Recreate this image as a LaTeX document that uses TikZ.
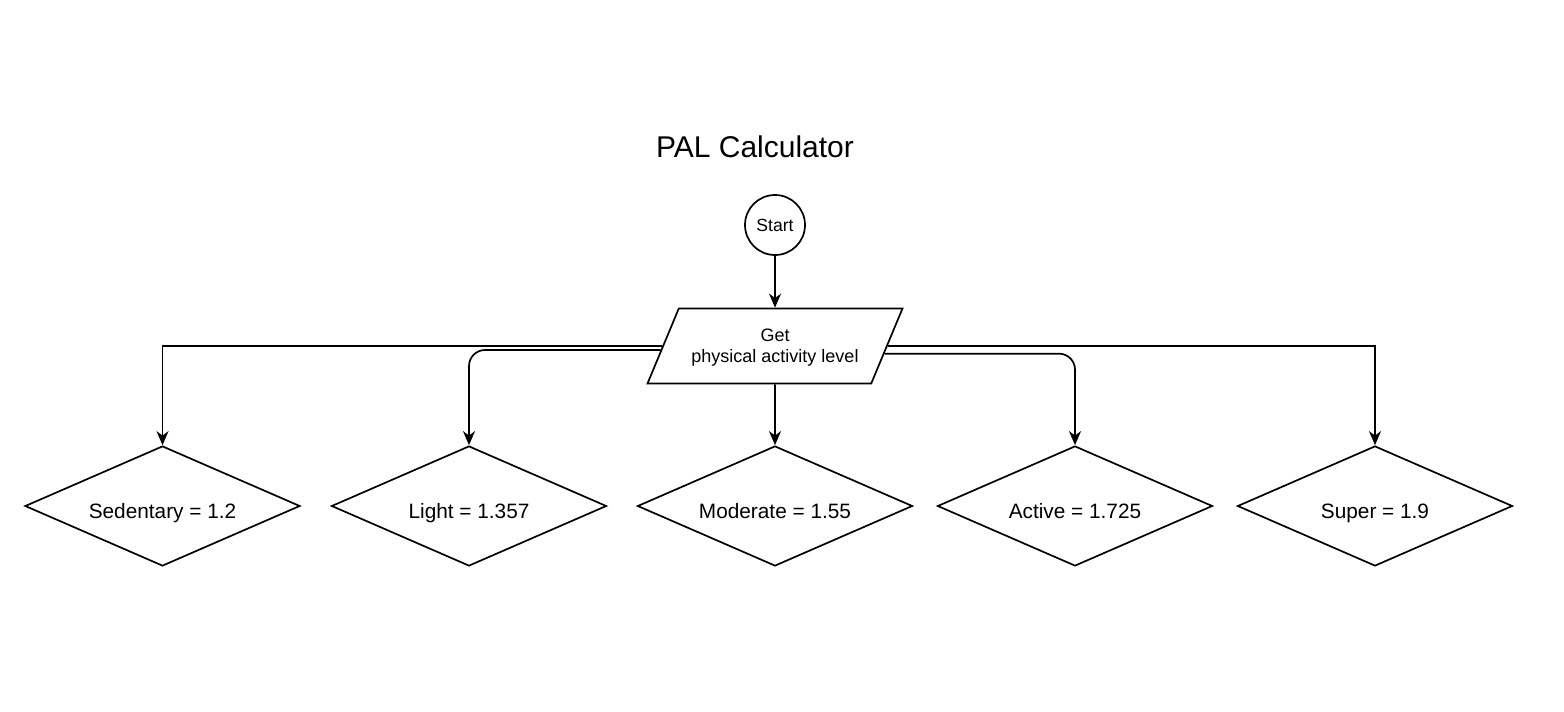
\documentclass[tikz,border=0pt]{standalone}
\usepackage{fontspec}
\setmainfont{Liberation Sans}
\usepackage{pgf,tikz}
\usetikzlibrary{arrows,arrows.meta,shapes.geometric}

\tikzset{
  choice/.style={draw, diamond, line width=0.85pt, minimum width=137.5pt, minimum height=60pt, inner sep=0pt, text height=12.5pt, text depth=0.5pt, font=\fontsize{10.4}{12}\selectfont},
  flow/.style={draw, line width=0.85pt, -{Stealth[length=7pt,width=6pt,inset=2.2pt]}}
}

\begin{document}
\begin{tikzpicture}[x=0.5pt,y=-0.5pt]
\useasboundingbox (0,0) rectangle (1564,712);

\node (title) at (755,147) {\fontsize{15}{18}\selectfont PAL Calculator};
\node[draw, circle, line width=0.85pt, minimum size=30pt, inner sep=0pt, font=\fontsize{8.8}{10}\selectfont] (start) at (775,225) {Start};
\node[draw, trapezium, trapezium left angle=56.3, trapezium right angle=123.7, trapezium stretches body, minimum width=127.5pt, minimum height=37.5pt, line width=0.85pt, align=center, text depth=0pt, font=\fontsize{9}{10.5}\selectfont] (para) at (775,346) {Get\\physical activity level};

\node[choice] (sed) at (162.5,506) {\makebox[0pt]{Sedentary = 1.2}};
\node[choice] (light) at (469,506) {\makebox[0pt]{Light = 1.357}};
\node[choice] (mod) at (775,506) {\makebox[0pt]{Moderate = 1.55}};
\node[choice] (act) at (1075,506) {\makebox[0pt]{Active = 1.725}};
\node[choice] (sup) at (1375,506) {\makebox[0pt]{Super = 1.9}};

\draw[flow] (start) -- (para);
\draw[flow] (para) -- (mod);
\draw[flow] (para.west) -| (sed.north);
\draw[flow, rounded corners=8pt] (para.182) -| (light.north);
\draw[flow, rounded corners=8pt] (para.356) -| (act.north);
\draw[flow] (para.east) -| (sup.north);
\end{tikzpicture}
\end{document}
